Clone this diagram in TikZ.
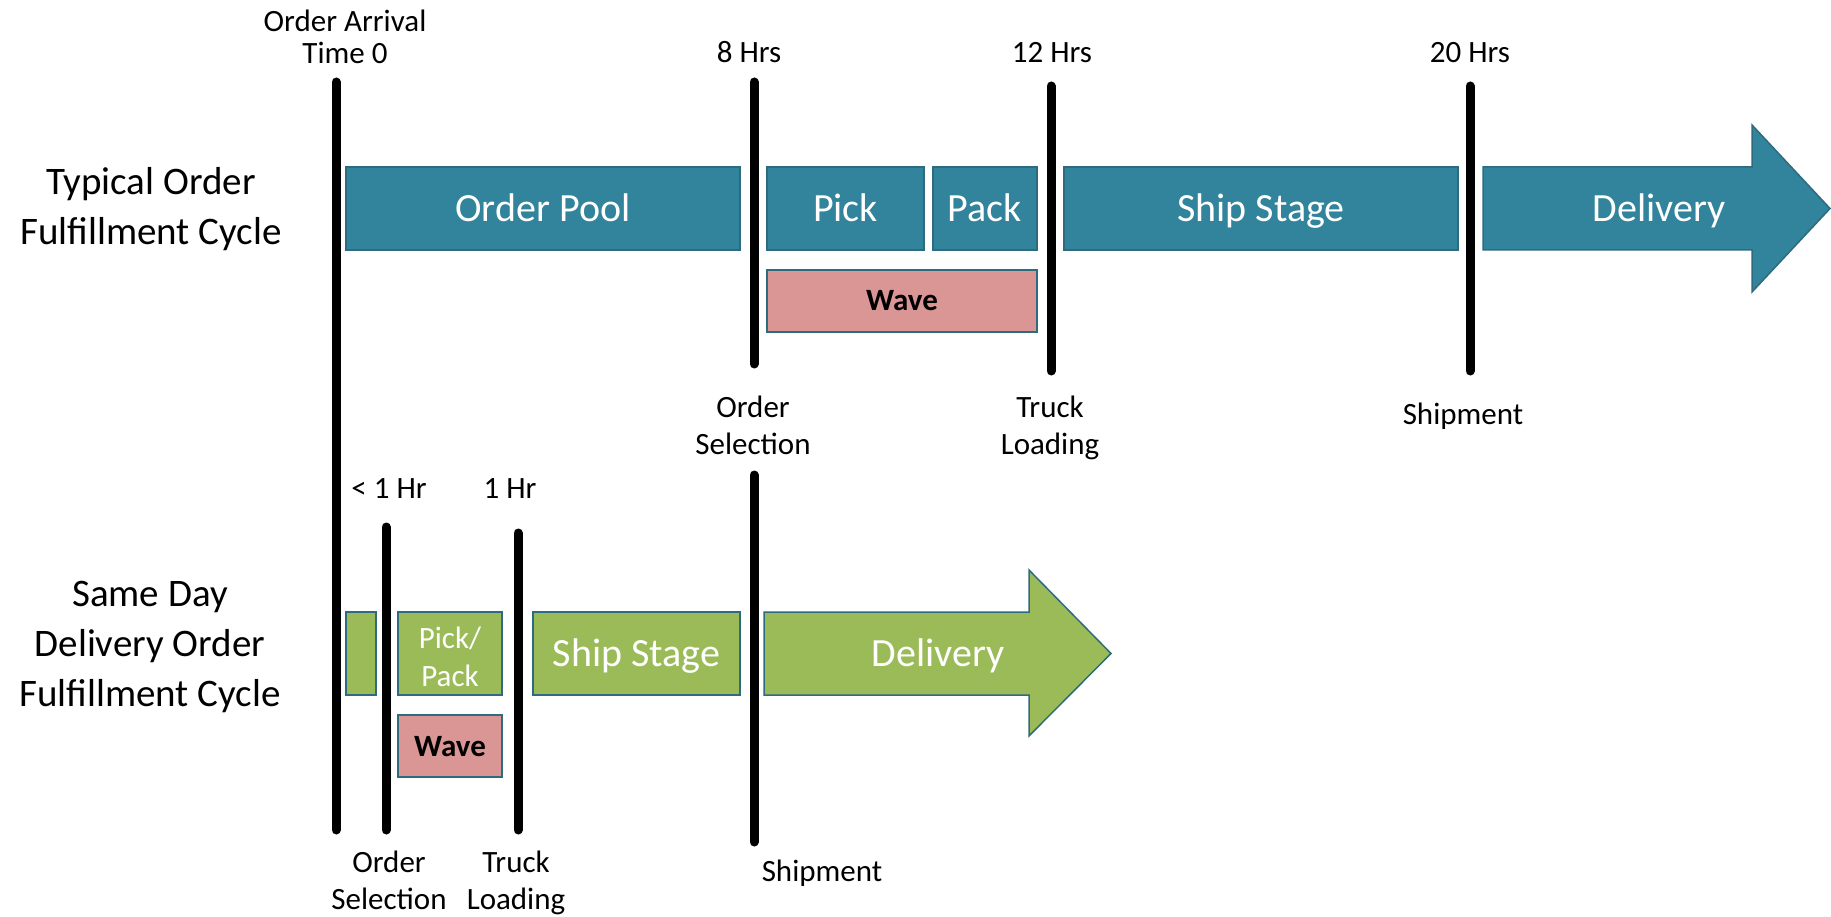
\documentclass[tikz,border=0pt]{standalone}
\usepackage{fontspec}
\setmainfont{Carlito}
\definecolor{teal1}{HTML}{31849B}
\definecolor{green1}{HTML}{9BBB59}
\definecolor{wave1}{HTML}{D99694}
\definecolor{edge1}{HTML}{2E6B7E}
\newcommand\stk[1]{\vtop{\halign{\hfil##\hfil\cr #1\crcr}}}
\tikzset{
  tick/.style={line width=9pt, line cap=round, black},
  tealbox/.style={fill=teal1, draw=edge1, line width=1.5pt},
  greenbox/.style={fill=green1, draw=edge1, line width=1.5pt},
  wavebox/.style={fill=wave1, draw=edge1, line width=1.5pt},
  boxtext/.style={text=white, font=\fontsize{40}{48}\selectfont, text height=25.8pt, text depth=0pt, inner sep=0pt},
  smalltext/.style={text=white, font=\fontsize{31}{38}\selectfont, inner sep=0pt, anchor=base},
  wavetext/.style={text=black, font=\bfseries\fontsize{31}{38}\selectfont, text height=20pt, text depth=0pt, inner sep=0pt},
  lbl/.style={font=\fontsize{31}{37}\selectfont, inner sep=0pt, anchor=base},
  lbltop/.style={font=\fontsize{31}{31.5}\selectfont, inner sep=0pt, anchor=base},
  side/.style={font=\fontsize{39}{50}\selectfont, inner sep=0pt, anchor=base},
}
\begin{document}
\begin{tikzpicture}[x=1pt,y=-1pt]
\useasboundingbox (0,0) rectangle (1831,917);

% ---------- top row ----------
\draw[tealbox] (346,167) rectangle (740,250);
\node[boxtext] (op) at (543,208.5) {Order Pool};
\draw[tealbox] (767,167) rectangle (924,250);
\node[boxtext] (pick) at (845.5,208.5) {Pick};
\draw[tealbox] (933,167) rectangle (1037,250);
\node[boxtext] (pack) at (985,208.5) {Pack};
\draw[tealbox] (1064,167) rectangle (1458,250);
\node[boxtext] (ss1) at (1261,208.5) {Ship Stage};
\draw[tealbox] (1483,167) -- (1752,167) -- (1752,125) -- (1830,208.5) -- (1752,292) -- (1752,250) -- (1483,250) -- cycle;
\node[boxtext] (del1) at (1659,208.5) {Delivery};
\draw[wavebox] (767,270) rectangle (1037,332);
\node[wavetext] (wave1) at (902,301) {Wave};

% ---------- bottom row ----------
\draw[greenbox] (346,612) rectangle (376,695);
\draw[greenbox] (398,612) rectangle (502,695);
\node[smalltext] (pp) at (450,648) {\stk{Pick/\cr Pack}};
\draw[greenbox] (533,612) rectangle (740,695);
\node[boxtext] (ss2) at (636.5,653.5) {Ship Stage};
\draw[greenbox] (764,612) -- (1029,612) -- (1029,570) -- (1111,653.5) -- (1029,736) -- (1029,695) -- (764,695) -- cycle;
\node[boxtext] (del2) at (938,653.5) {Delivery};
\draw[wavebox] (398,715) rectangle (502,777);
\node[wavetext] (wave2) at (450,746) {Wave};

% ---------- timeline ticks ----------
\draw[tick] (336,82) -- (336,830);
\draw[tick] (754,82) -- (754,364);
\draw[tick] (1051,86) -- (1051,371);
\draw[tick] (1470,86) -- (1470,371);
\draw[tick] (386,527) -- (386,830);
\draw[tick] (518,533) -- (518,830);
\draw[tick] (754,475) -- (754,842);

% ---------- labels ----------
\node[lbltop] (t0) at (345,32) {\stk{Order Arrival\cr Time 0}};
\node[lbl] (h8) at (749,63) {8 Hrs};
\node[lbl] (h12) at (1052,63) {12 Hrs};
\node[lbl] (h20) at (1470,63) {20 Hrs};
\node[lbl] (os1) at (753,417) {\stk{Order\cr Selection}};
\node[lbl] (tl1) at (1050,417) {\stk{Truck\cr Loading}};
\node[lbl] (sh1) at (1463,424) {Shipment};

\node[lbl] (h1a) at (389,498) {< 1 Hr};
\node[lbl] (h1b) at (510,498) {1 Hr};
\node[lbl] (os2) at (389,872) {\stk{Order\cr Selection}};
\node[lbl] (tl2) at (516,872) {\stk{Truck\cr Loading}};
\node[lbl] (sh2) at (822,881) {Shipment};

\node[side] (typ) at (151,195) {\stk{Typical Order\cr Fulfillment Cycle}};
\node[side] (sdd) at (150,606) {\stk{Same Day\cr Delivery Order\cr Fulfillment Cycle}};
\end{tikzpicture}
\end{document}
